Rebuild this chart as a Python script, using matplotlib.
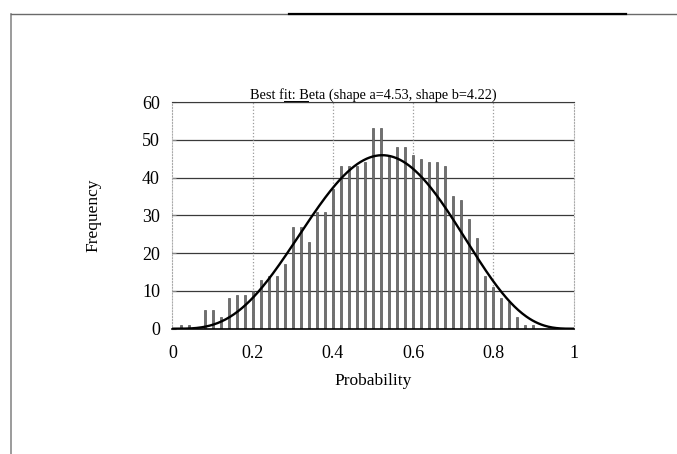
import math
import numpy as np
import matplotlib
matplotlib.use("Agg")
import matplotlib.pyplot as plt
from matplotlib.lines import Line2D

plt.rcParams['font.family'] = ['Liberation Serif', 'DejaVu Serif']

# histogram (bins of 0.02)
bin_pos = [0.02, 0.04, 0.06, 0.08, 0.10, 0.12, 0.14, 0.16, 0.18, 0.20,
           0.22, 0.24, 0.26, 0.28, 0.30, 0.32, 0.34, 0.36, 0.38, 0.40,
           0.42, 0.44, 0.46, 0.48, 0.50, 0.52, 0.54, 0.56, 0.58, 0.60,
           0.62, 0.64, 0.66, 0.68, 0.70, 0.72, 0.74, 0.76, 0.78, 0.80,
           0.82, 0.84, 0.86, 0.88, 0.90]
freq = [1, 1, 0, 5, 5, 3, 8, 9, 9, 10,
        13, 14, 14, 17, 27, 27, 23, 31, 31, 37,
        43, 43, 43, 44, 53, 53, 46, 48, 48, 46,
        45, 44, 44, 43, 35, 34, 29, 24, 14, 11,
        8, 7, 3, 1, 1]

shape_a = 4.53
shape_b = 4.22
n_samples = 1000
bin_w = 0.02

x_ticks = [0, 0.2, 0.4, 0.6, 0.8, 1]
x_ticklabels = ['0', '0.2', '0.4', '0.6', '0.8', '1']
y_ticks = [0, 10, 20, 30, 40, 50, 60]


def beta_pdf(x, a, b):
    lnB = math.lgamma(a) + math.lgamma(b) - math.lgamma(a + b)
    x = np.clip(x, 1e-9, 1 - 1e-9)
    return np.exp((a - 1) * np.log(x) + (b - 1) * np.log(1 - x) - lnB)


fig = plt.figure(figsize=(6.77, 4.54), dpi=100)
ax = fig.add_axes([0.2548, 0.276, 0.5924, 0.4993])

for yv in y_ticks[1:]:
    ax.axhline(yv, color='#3a3a3a', lw=0.9, zorder=1)
for xv in x_ticks[1:-1]:
    ax.axvline(xv, color='#9a9a9a', lw=0.9, ls=':', zorder=1)

ax.bar(bin_pos, freq, width=0.005, color='#707070', edgecolor='#555555',
       lw=0.5, zorder=2)

xs = np.linspace(0, 1, 400)
fit = n_samples * bin_w * beta_pdf(xs, shape_a, shape_b)
ax.plot(xs, fit, color='black', lw=1.7, zorder=3)

ax.set_xlim(0, 1)
ax.set_ylim(0, 60)
ax.set_xticks(x_ticks)
ax.set_xticklabels(x_ticklabels)
ax.set_yticks(y_ticks)
ax.tick_params(axis='x', length=0, pad=12, labelsize=13)
ax.tick_params(axis='y', length=3, direction='in', pad=9, labelsize=13,
               color='#888888')

ax.spines['left'].set_color('#aaaaaa')
ax.spines['left'].set_linestyle(':')
ax.spines['right'].set_color('#aaaaaa')
ax.spines['right'].set_linestyle(':')
ax.spines['top'].set_color('#3a3a3a')
ax.spines['bottom'].set_color('black')
ax.spines['bottom'].set_linewidth(1.2)

ax.set_xlabel('Probability', fontsize=12.5)
ax.xaxis.set_label_coords(0.5, -0.196)
ax.set_ylabel('Frequency', fontsize=12.5)
ax.yaxis.set_label_coords(-0.177, 0.5)

ax.set_title('Best fit: Beta (shape a=4.53, shape b=4.22)', fontsize=10.3, pad=1.5)
# underline under "Beta"
fig.add_artist(Line2D([0.4195, 0.4555], [0.7775, 0.7775], color='black', lw=0.7))

# scanned page frame
fig.add_artist(Line2D([0.016, 0.016], [0.0, 0.969], color='#8a8a8a', lw=1.2))
fig.add_artist(Line2D([0.016, 1.0], [0.969, 0.969], color='#6a6a6a', lw=1.0))
fig.add_artist(Line2D([0.427, 0.925], [0.969, 0.969], color='black', lw=1.6))

fig.savefig('out.png', dpi=100)
